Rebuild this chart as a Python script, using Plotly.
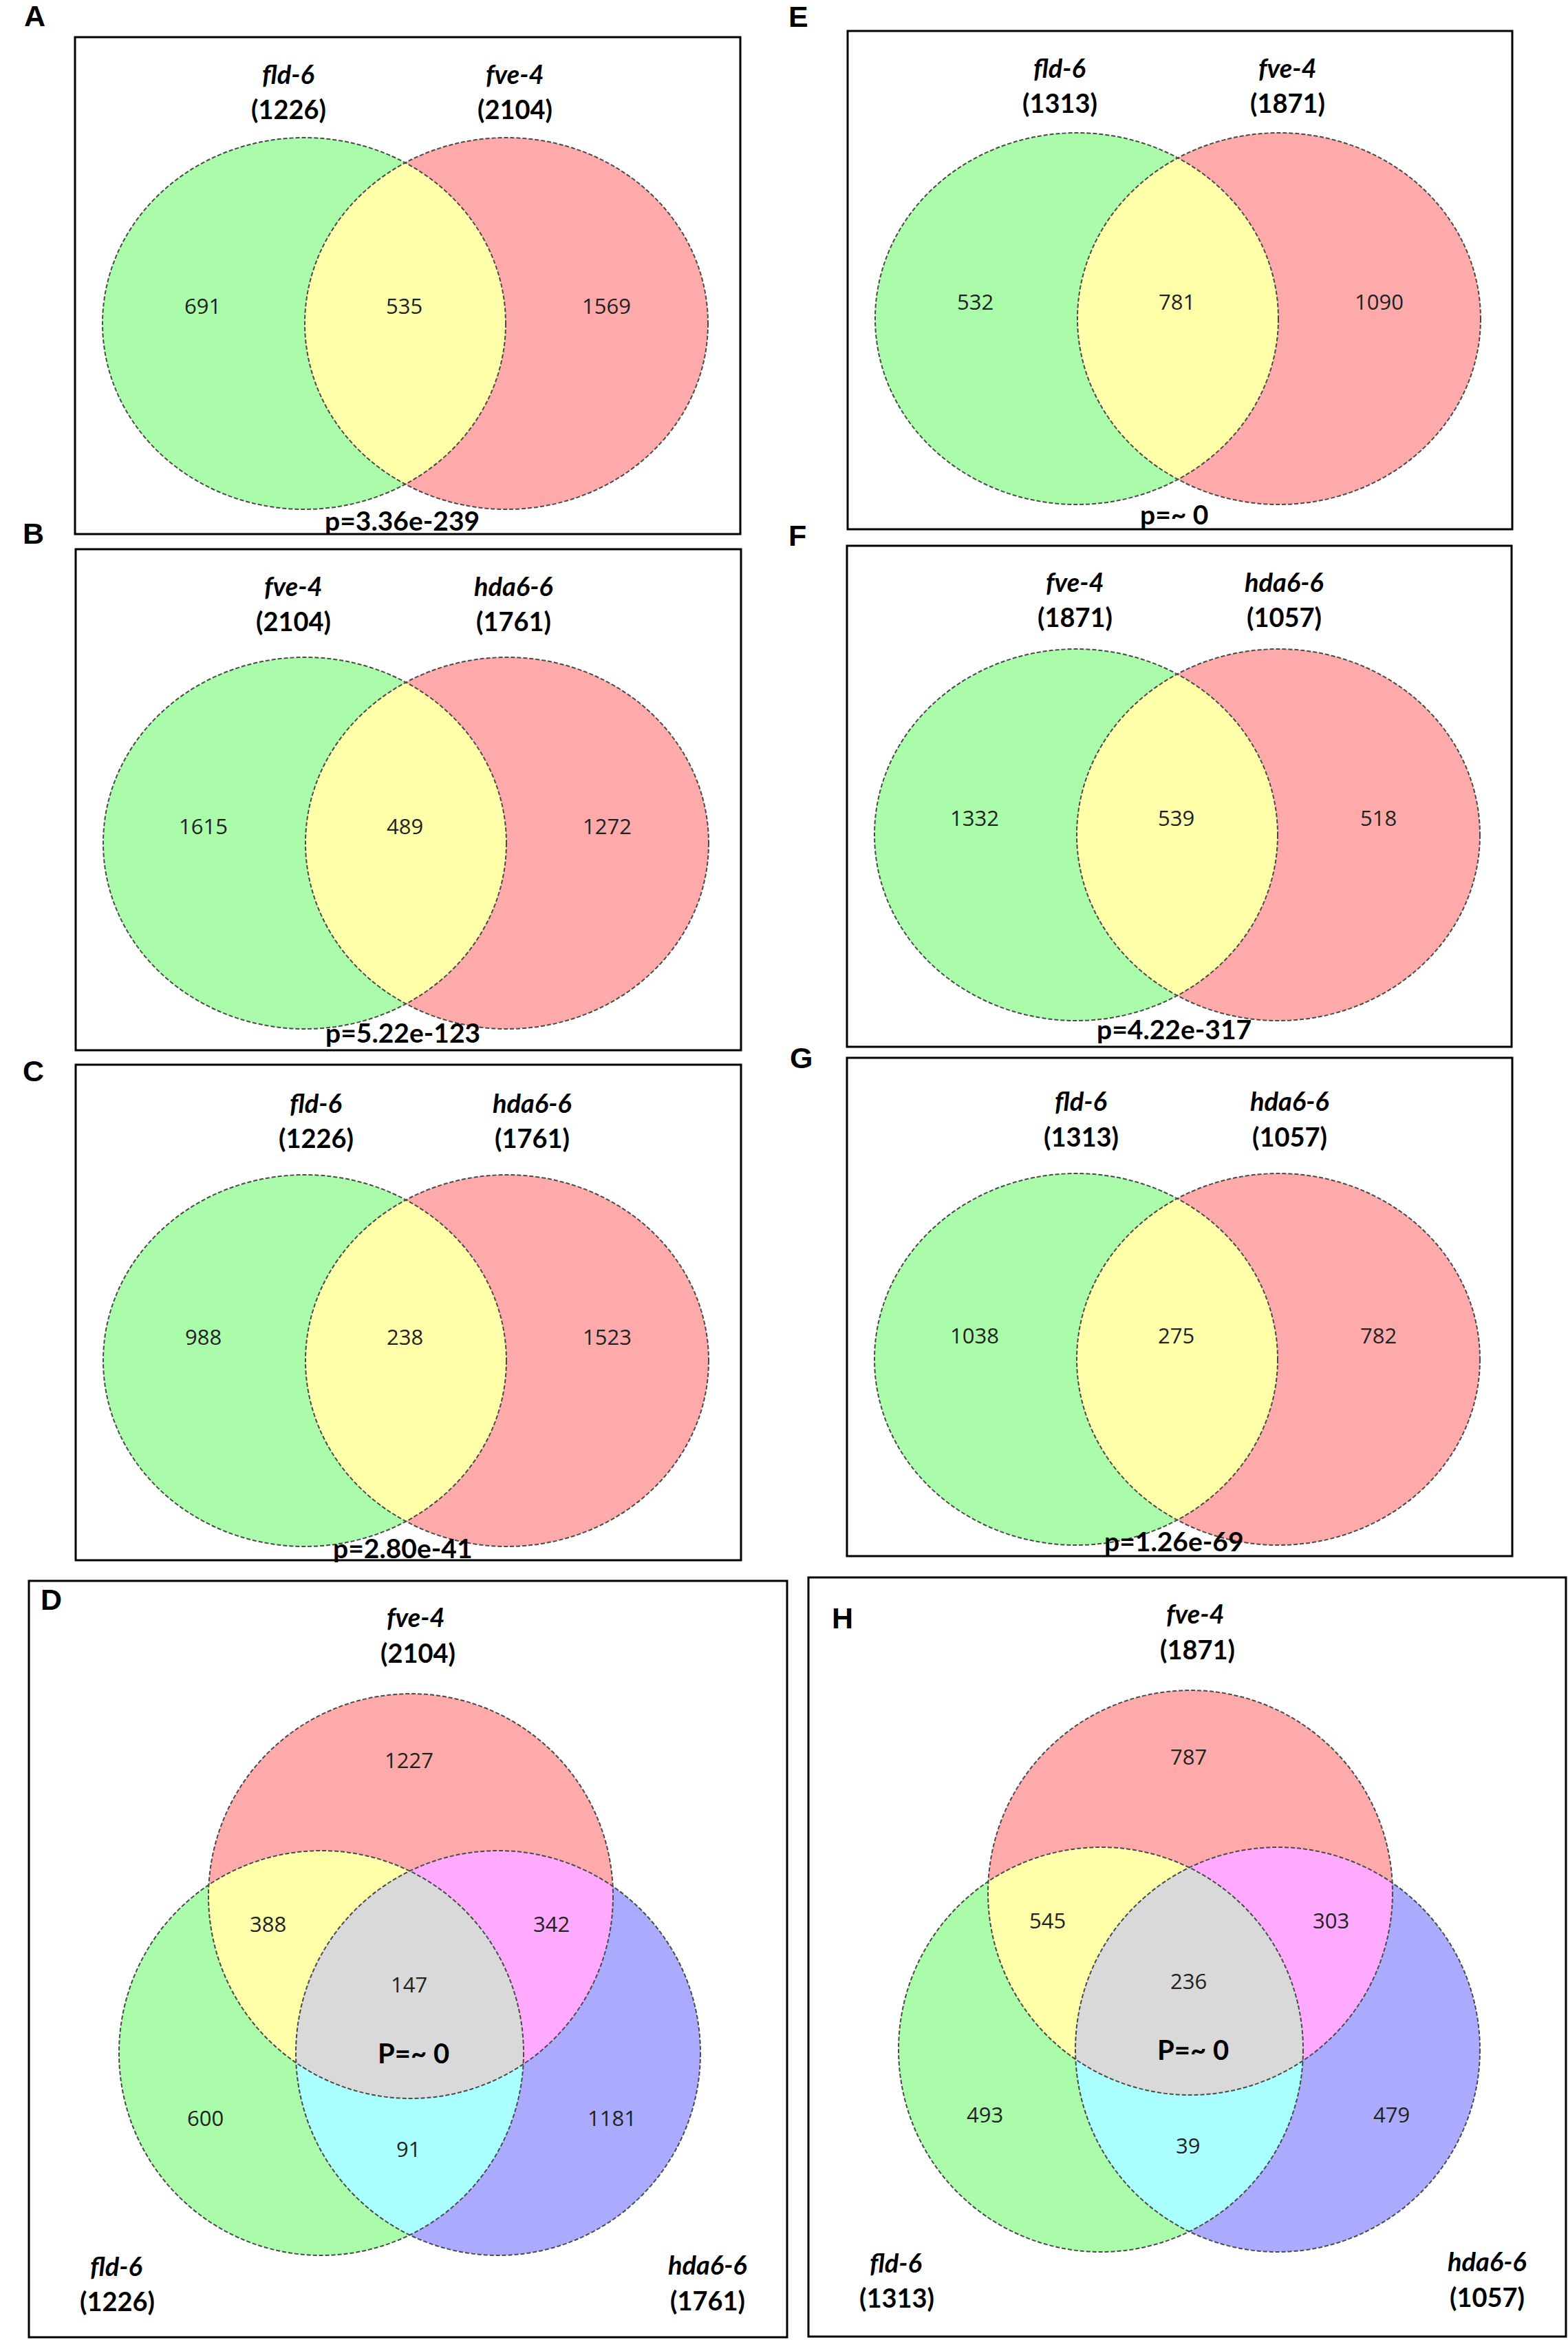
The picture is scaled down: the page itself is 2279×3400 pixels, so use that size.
import numpy as np
import plotly.graph_objects as go

# ------------------------------------------------------------------ data
two_way_panels = ["A", "B", "C", "E", "F", "G"]
two_way_left_names = ["fld-6", "fve-4", "fld-6", "fld-6", "fve-4", "fld-6"]
two_way_right_names = ["fve-4", "hda6-6", "hda6-6", "fve-4", "hda6-6", "hda6-6"]
two_way_left_totals = [1226, 2104, 1226, 1313, 1871, 1313]
two_way_right_totals = [2104, 1761, 1761, 1871, 1057, 1057]
two_way_left_only = [691, 1615, 988, 532, 1332, 1038]
two_way_shared = [535, 489, 238, 781, 539, 275]
two_way_right_only = [1569, 1272, 1523, 1090, 518, 782]
two_way_pvalues = ["p=3.36e-239", "p=5.22e-123", "p=2.80e-41",
                   "p=~ 0", "p=4.22e-317", "p=1.26e-69"]

three_way_panels = ["D", "H"]
three_way_top_names = ["fve-4", "fve-4"]
three_way_top_totals = [2104, 1871]
three_way_left_names = ["fld-6", "fld-6"]
three_way_left_totals = [1226, 1313]
three_way_right_names = ["hda6-6", "hda6-6"]
three_way_right_totals = [1761, 1057]
three_way_top_only = [1227, 787]
three_way_top_left = [388, 545]
three_way_top_right = [342, 303]
three_way_all = [147, 236]
three_way_left_only = [600, 493]
three_way_left_right = [91, 39]
three_way_right_only = [1181, 479]
three_way_pvalues = ["P=~ 0", "P=~ 0"]

# ------------------------------------------------------------------ layout (pixel units)
W, H = 2279, 3400
BOX = {
    "A": (109, 54, 1076, 776), "B": (110, 798, 1077, 1526),
    "C": (110, 1547, 1077, 2267), "E": (1232, 45, 2198, 769),
    "F": (1231, 793, 2197, 1521), "G": (1231, 1537, 2198, 2261),
    "D": (42, 2297, 1144, 3396), "H": (1175, 2292, 2276, 3395),
}
LETTER_POS = {"A": (50, 23), "B": (48, 775), "C": (48, 1556), "E": (1160, 24),
              "F": (1159, 778), "G": (1164, 1537), "D": (74, 2324), "H": (1224, 2351)}
TITLE_X2 = {"A": (310, 639), "B": (316, 636), "C": (349, 663),
            "E": (308, 639), "F": (331, 635), "G": (340, 643)}
TITLE_Y2 = {"A": (53, 104), "B": (53, 104), "C": (55, 106),
            "E": (53, 104), "F": (52, 103), "G": (62, 114)}
CENTER_Y2 = {"A": 416, "B": 427, "C": 430, "E": 418, "F": 420, "G": 438}
NUM_Y2 = {"A": 390, "B": 402, "C": 395, "E": 393, "F": 395, "G": 403}
G_CX, R_CX, RX2, RY2 = 333, 627, 293, 270
NUM_X2 = (185, 478, 772)
P_POS2 = (475, 702)

TOP_C, LEFT_C, RIGHT_C, R3 = (555, 458), (425, 686), (682, 686), 294
NUM3 = {"top_only": (552, 260), "top_left": (347, 498), "top_right": (759, 498),
        "all": (552, 586), "p": (559, 686), "left_only": (256, 780),
        "left_right": (551, 825), "right_only": (847, 780)}
TITLE3 = {"top": ((562, 52), (565, 104)), "left": ((127, 995), (128, 1046)),
          "right": ((986, 993), (986, 1045))}

C_GREEN, C_RED, C_BLUE = "#aafbaa", "#ffaaaa", "#aaaaff"
C_YELLOW, C_MAGENTA, C_CYAN, C_GRAY = "#ffffaa", "#ffaaff", "#aaffff", "#d9d9d9"
OUTLINE = dict(color="#4a4a4a", width=2, dash="6px,3px")

TITLE_FONT = "Lato, 'Open Sans', sans-serif"
NUM_FONT = "'Open Sans', 'DejaVu Sans', sans-serif"
LETTER_FONT = "'Liberation Sans', Arial, sans-serif"

shapes, annotations = [], []


def ann(x, y, text, size, family, color="black"):
    annotations.append(dict(x=x, y=y, xref="x", yref="y", text=text, showarrow=False,
                            xanchor="center", yanchor="middle",
                            font=dict(size=size, family=family, color=color)))


def ellipse(cx, cy, rx, ry, fill=None, outline=False):
    s = dict(type="circle", xref="x", yref="y", x0=cx - rx, x1=cx + rx,
             y0=cy - ry, y1=cy + ry, layer="above")
    if outline:
        s.update(fillcolor="rgba(0,0,0,0)", line=OUTLINE)
    else:
        s.update(fillcolor=fill, line=dict(width=0))
    shapes.append(s)


def intersection(ells, fill, n=1440):
    pts = []
    t = np.linspace(0, 2 * np.pi, n, endpoint=False)
    for i, (cx, cy, rx, ry) in enumerate(ells):
        xs, ys = cx + rx * np.cos(t), cy + ry * np.sin(t)
        m = np.ones(n, bool)
        for j, (cx2, cy2, rx2, ry2) in enumerate(ells):
            if j != i:
                m &= ((xs - cx2) / rx2) ** 2 + ((ys - cy2) / ry2) ** 2 <= 1.0
        pts.append(np.column_stack([xs[m], ys[m]]))
    P = np.vstack(pts)
    c = P.mean(axis=0)
    P = P[np.argsort(np.arctan2(P[:, 1] - c[1], P[:, 0] - c[0]))]
    path = "M " + " L ".join(f"{x:.1f},{y:.1f}" for x, y in P) + " Z"
    shapes.append(dict(type="path", xref="x", yref="y", path=path,
                       fillcolor=fill, line=dict(width=0), layer="above"))


def title(x, y1, y2, name, total):
    ann(x, y1, f"<b><i>{name}</i></b>", 38, TITLE_FONT)
    ann(x, y2, f"<b>({total})</b>", 38, TITLE_FONT)


def box(p):
    x0, y0, x1, y1 = BOX[p]
    shapes.append(dict(type="rect", xref="x", yref="y", x0=x0, x1=x1, y0=y0, y1=y1,
                       line=dict(color="black", width=3), fillcolor="rgba(0,0,0,0)",
                       layer="above"))
    lx, ly = LETTER_POS[p]
    ann(lx, ly, f"<b>{p}</b>", 43, LETTER_FONT)


# ------------------------------------------------------------------ two-set panels
for k, p in enumerate(two_way_panels):
    bx, by = BOX[p][0], BOX[p][1]
    cy = by + CENTER_Y2[p]
    eg = (bx + G_CX, cy, RX2, RY2)
    er = (bx + R_CX, cy, RX2, RY2)
    ellipse(*eg, fill=C_GREEN)
    ellipse(*er, fill=C_RED)
    intersection([eg, er], C_YELLOW)
    ellipse(*eg, outline=True)
    ellipse(*er, outline=True)
    box(p)
    tx = TITLE_X2[p]
    ty = TITLE_Y2[p]
    title(bx + tx[0], by + ty[0], by + ty[1], two_way_left_names[k], two_way_left_totals[k])
    title(bx + tx[1], by + ty[0], by + ty[1], two_way_right_names[k], two_way_right_totals[k])
    ny = by + NUM_Y2[p]
    for xx, v in zip(NUM_X2, [two_way_left_only[k], two_way_shared[k], two_way_right_only[k]]):
        ann(bx + xx, ny, str(v), 31, NUM_FONT, "#222222")
    ann(bx + P_POS2[0], by + P_POS2[1], f"<b>{two_way_pvalues[k]}</b>", 39, TITLE_FONT)

# ------------------------------------------------------------------ three-set panels
for k, p in enumerate(three_way_panels):
    bx, by = BOX[p][0], BOX[p][1]
    et = (bx + TOP_C[0], by + TOP_C[1], R3, R3)
    el = (bx + LEFT_C[0], by + LEFT_C[1], R3, R3)
    er = (bx + RIGHT_C[0], by + RIGHT_C[1], R3, R3)
    ellipse(*et, fill=C_RED)
    ellipse(*el, fill=C_GREEN)
    ellipse(*er, fill=C_BLUE)
    intersection([et, el], C_YELLOW)
    intersection([et, er], C_MAGENTA)
    intersection([el, er], C_CYAN)
    intersection([et, el, er], C_GRAY)
    for e in (et, el, er):
        ellipse(*e, outline=True)
    box(p)
    (t1, t2) = TITLE3["top"]
    ann(bx + t1[0], by + t1[1], f"<b><i>{three_way_top_names[k]}</i></b>", 38, TITLE_FONT)
    ann(bx + t2[0], by + t2[1], f"<b>({three_way_top_totals[k]})</b>", 38, TITLE_FONT)
    (t1, t2) = TITLE3["left"]
    ann(bx + t1[0], by + t1[1], f"<b><i>{three_way_left_names[k]}</i></b>", 38, TITLE_FONT)
    ann(bx + t2[0], by + t2[1], f"<b>({three_way_left_totals[k]})</b>", 38, TITLE_FONT)
    (t1, t2) = TITLE3["right"]
    ann(bx + t1[0], by + t1[1], f"<b><i>{three_way_right_names[k]}</i></b>", 38, TITLE_FONT)
    ann(bx + t2[0], by + t2[1], f"<b>({three_way_right_totals[k]})</b>", 38, TITLE_FONT)
    vals = {"top_only": three_way_top_only[k], "top_left": three_way_top_left[k],
            "top_right": three_way_top_right[k], "all": three_way_all[k],
            "left_only": three_way_left_only[k], "left_right": three_way_left_right[k],
            "right_only": three_way_right_only[k]}
    for key, v in vals.items():
        x, y = NUM3[key]
        ann(bx + x, by + y, str(v), 31, NUM_FONT, "#222222")
    x, y = NUM3["p"]
    ann(bx + x, by + y, f"<b>{three_way_pvalues[k]}</b>", 40, TITLE_FONT)

fig = go.Figure()
fig.update_layout(
    width=W, height=H, autosize=False,
    margin=dict(l=0, r=0, t=0, b=0, pad=0),
    paper_bgcolor="white", plot_bgcolor="white",
    xaxis=dict(range=[0, W], visible=False, fixedrange=True),
    yaxis=dict(range=[H, 0], visible=False, fixedrange=True),
    shapes=shapes, annotations=annotations, showlegend=False,
)
fig.write_html("out.html", config={"displayModeBar": False},
               post_script="document.body.style.margin='0';document.body.style.overflow='hidden';")
